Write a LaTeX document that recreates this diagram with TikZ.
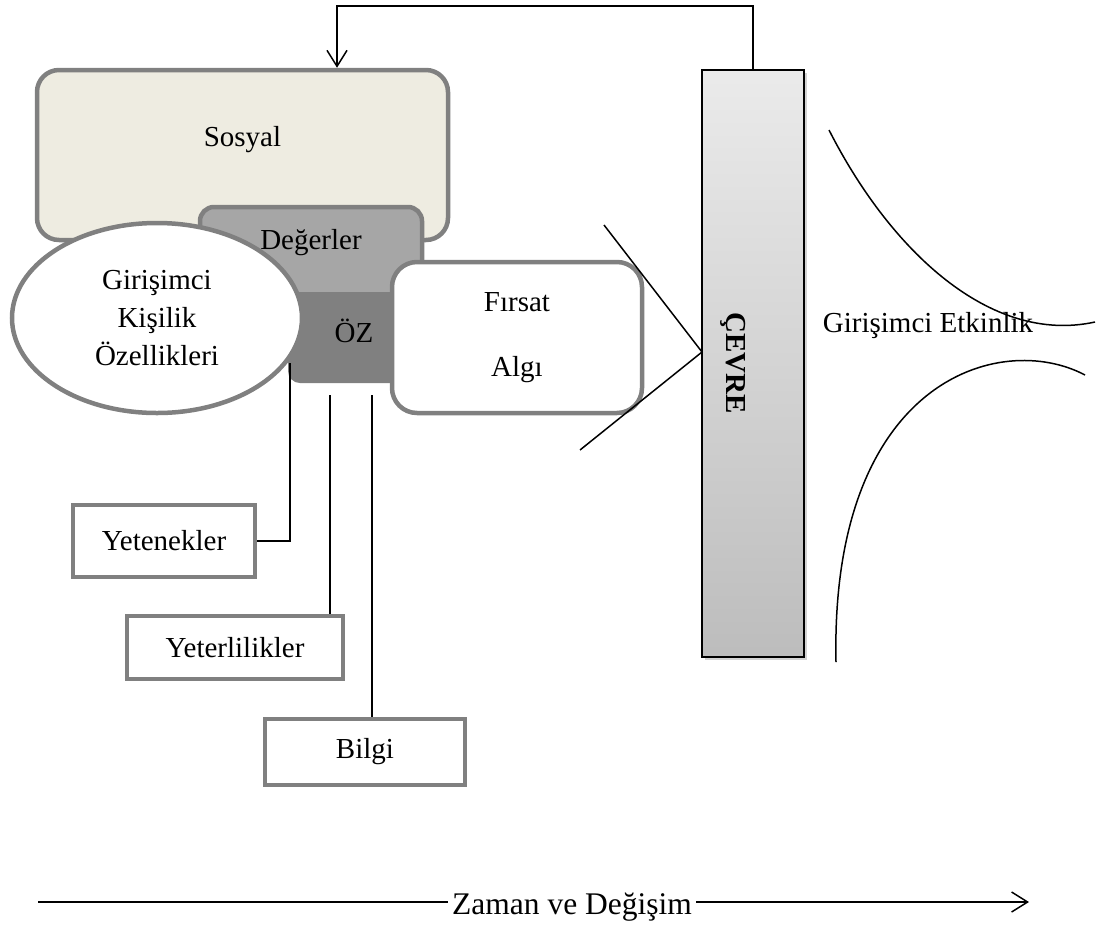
\documentclass[tikz,border=0pt]{standalone}
\usepackage{fontspec}
\setmainfont{Liberation Serif}
\usetikzlibrary{arrows.meta,shapes.geometric,shadows}
\definecolor{sosyalbg}{HTML}{EEECE1}
\begin{document}
\begin{tikzpicture}[x=1pt,y=-1pt,font=\fontsize{29}{34}\selectfont,
				>={Straight Barb[length=16pt,width=20pt]},
				blob/.style={draw=black!50, line width=4.5pt, rounded corners=22pt, inner sep=0},
				item/.style={draw=black!50, line width=4pt, fill=white, inner sep=0}]
				\useasboundingbox (0,0) rectangle (1099,927);
				
				\node[blob, fill=sosyalbg, minimum width=411pt, minimum height=170pt,
				label={[yshift=15pt]center:Sosyal}] (sosyal) at (242.5,155) {};
				\node[blob, fill=black!35, rounded corners=14pt, minimum width=222pt, minimum height=93pt,
				label={[yshift=11pt]center:Değerler}] (deg) at (311,253.5) {};
				\node[fill=black!50, rounded corners=12pt, inner sep=0, minimum width=132pt, minimum height=91pt,
				label={[yshift=7pt]center:ÖZ}] (oz) at (354,337.5) {};
				\node[ellipse, draw=black!50, line width=4.5pt, fill=white, inner sep=0, minimum width=290pt,
				minimum height=190pt, align=center, font=\fontsize{29}{38}\selectfont] (kisilik) at (157,318) {Girişimci\\Kişilik\\Özellikleri};
				\node[blob, fill=white, rounded corners=25pt, minimum width=250pt, minimum height=151pt,
				align=center] (firsat) at (517,337.5) {Fırsat\\[31pt]Algı};
				
				\node[draw=black, line width=2.5pt, top color=black!8, bottom color=black!26, inner sep=0,
				drop shadow={shadow xshift=3pt,shadow yshift=-3pt,opacity=.35},
				minimum width=102pt, minimum height=587pt] (cevre) at (753,363.5) {};
				\node[rotate=-90, font=\fontsize{29}{34}\selectfont\bfseries] (cevreyazi) at (733,363) {ÇEVRE};
				
				\node[item, minimum width=182pt, minimum height=72pt] (yet) at (164,541) {Yetenekler};
				\node[item, minimum width=216pt, minimum height=63pt] (yeter) at (235,647.5) {Yeterlilikler};
				\node[item, minimum width=200pt, minimum height=66pt] (bilgi) at (365,752) {Bilgi};
				
				\node (etkinlik) at (928,326) {Girişimci Etkinlik};
				\node[font=\fontsize{31.5}{36}\selectfont, inner sep=4pt] (zaman) at (572,907) {Zaman ve Değişim};
				
				\coordinate (ust) at (337,6);
				\coordinate (c1) at (290,363);
				\coordinate (c2) at (330,395);
				\coordinate (c3) at (372,395);
				\coordinate (z0) at (38,902);
				\coordinate (z1) at (1029,902);
				
				\begin{scope}[line width=1.5pt]
				\draw[->] (cevre.north) |- (ust) -- (ust |- sosyal.north);
				\draw (604,225) -- (702,352) -- (580,450);
				\draw (c1) |- (yet.east);
				\draw (c2) -- (c2 |- yeter.north);
				\draw (c3) -- (c3 |- bilgi.north);
				\draw (829,130) .. controls (890,250) and (990,345) .. (1095,322);
				\draw (1085,375) .. controls (1000,330) and (830,380) .. (836,662);
				\draw (z0) -- (z0 -| zaman.west);
				\draw[->] (z1 -| zaman.east) -- (z1);
				\end{scope}
				\end{tikzpicture}
\end{document}
